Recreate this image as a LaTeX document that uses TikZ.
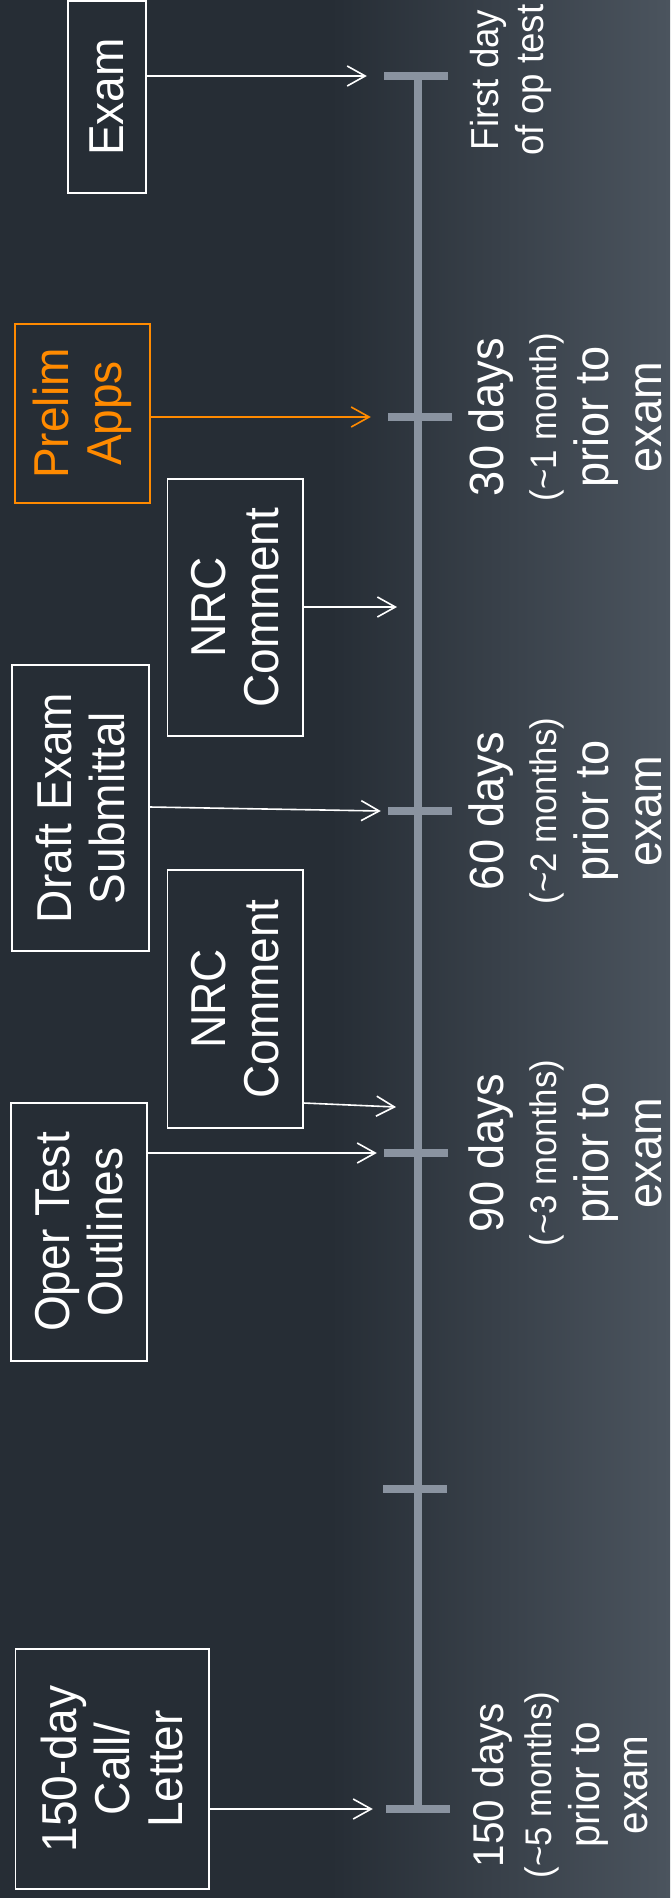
\documentclass[tikz,border=0pt]{standalone}
\usepackage{fontspec}
\setmainfont{Liberation Sans}[FakeStretch=0.94]
\usetikzlibrary{arrows.meta}
\definecolor{bgdark}{HTML}{262D35}
\definecolor{bglight}{HTML}{4B545E}
\definecolor{tickgray}{HTML}{8A93A0}
\definecolor{orng}{HTML}{FF8A00}
\begin{document}
\begin{tikzpicture}[x=1pt,y=-1pt,
  box/.style={draw=white, line width=1.5pt, rotate=90, text=white, align=center,
    inner sep=0pt, font=\fontsize{49}{53}\selectfont},
  obox/.style={box, draw=orng, text=orng},
  tickbar/.style={fill=tickgray, draw=none, minimum width=64pt, minimum height=8.5pt, inner sep=0pt},
  arr/.style={white, line width=1.6pt, -{Straight Barb[length=18pt,width=20pt]}},
  oarr/.style={arr, orng},
  lbl/.style={rotate=90, anchor=north, text=white, align=center, inner sep=0pt,
    font=\fontsize{48}{52.5}\selectfont}
]
\useasboundingbox (0,0) rectangle (670,1898);
\fill[bgdark] (0,0) rectangle (670,1898);
\shade[left color=bgdark, right color=bglight] (330,0) rectangle (670,1898);

% ticks
\node[tickbar] (t0) at (416,76) {};
\node[tickbar] (t1) at (420,417) {};
\node[tickbar] (t2) at (420,811) {};
\node[tickbar] (t3) at (416,1153) {};
\node[tickbar] (t4) at (415,1489) {};
\node[tickbar] (t5) at (418,1809) {};
\draw[tickgray, line width=8pt] (t0.center -| t5.center) -- (t5.center);
\foreach \t in {t0,t1,t2,t3,t4,t5} \node[tickbar] at (\t) {};

% boxes
\node[box, minimum width=192pt, minimum height=78pt] (exam) at (107,97) {Exam};
\node[obox, minimum width=179pt, minimum height=135pt] (prelim) at (82.5,413.5) {Prelim\\Apps};
\node[box, minimum width=257pt, minimum height=135.5pt] (nrc1) at (235,607.5) {NRC\\Comment};
\node[box, minimum width=286pt, minimum height=137pt] (draft) at (80.5,808) {Draft Exam\\Submittal};
\node[box, minimum width=258pt, minimum height=135.5pt] (nrc2) at (235,999) {NRC\\Comment};
\node[box, minimum width=258pt, minimum height=136pt] (oper) at (79,1232) {Oper Test\\Outlines};
\node[box, minimum width=240pt, minimum height=193.5pt] (call) at (112,1769) {150-day\\Call/\\Letter};

% free arrow ends
\coordinate (c1) at (397,607);
\coordinate (c2) at (396,1107);

% arrows
\draw[arr] (exam.south |- t0) -- ([xshift=-17pt]t0.west);
\draw[oarr] (prelim.south |- t1) -- ([xshift=-17pt]t1.west);
\draw[arr] (nrc1.south |- c1) -- (c1);
\draw[arr] ([yshift=4pt]draft.south |- t2) -- ([xshift=-7pt]t2.west);
\draw[arr] ([yshift=4pt]nrc2.south |- c2) -- (c2);
\draw[arr] (oper.south |- t3) -- ([xshift=-7pt]t3.west);
\draw[arr] (call.south |- t5) -- ([xshift=-13pt]t5.west);

% labels
\node[lbl, font=\fontsize{39}{45}\selectfont] (l0) at (470,80) {First day\\of op test};
\node[lbl] (l1) at (469,417) {30 days\\{\fontsize{37}{42}\selectfont(\textasciitilde1 month)}\\prior to\\exam};
\node[lbl] (l2) at (469,811) {60 days\\{\fontsize{37}{42}\selectfont(\textasciitilde2 months)}\\prior to\\exam};
\node[lbl] (l3) at (469,1153) {90 days\\{\fontsize{37}{42}\selectfont(\textasciitilde3 months)}\\prior to\\exam};
\node[lbl, font=\fontsize{43}{48}\selectfont] (l5) at (472,1785) {150 days\\{\fontsize{37}{42}\selectfont(\textasciitilde5 months)}\\prior to\\exam};
\end{tikzpicture}
\end{document}
